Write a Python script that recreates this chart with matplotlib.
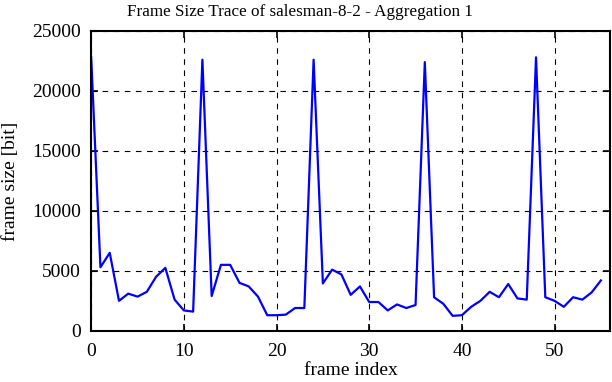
import matplotlib
matplotlib.use("Agg")
import matplotlib.pyplot as plt
import numpy as np

# frame sizes [bit] per frame index
frame_size = [
    22800, 5300, 6500, 2500, 3100, 2850, 3250, 4500, 5250, 2600,
    1700, 1600, 22600, 2900, 5500, 5500, 4000, 3700, 2850, 1300,
    1300, 1350, 1900, 1900, 22600, 3950, 5100, 4700, 3000, 3700,
    2400, 2400, 1700, 2200, 1900, 2150, 22400, 2800, 2250, 1250,
    1300, 2000, 2500, 3250, 2800, 3900, 2700, 2600, 22800, 2800,
    2500, 2000, 2800, 2600, 3200, 4200,
]
frame_index = np.arange(len(frame_size))

plt.rcParams["font.family"] = ["Liberation Serif", "DejaVu Serif"]

fig = plt.figure(figsize=(6.12, 3.82), dpi=100)
ax = fig.add_axes([0.149, 0.134, 0.848, 0.785])
ax.plot(frame_index, frame_size, color="#0000ff", linewidth=1.6)

ax.set_xlim(0, 56)
ax.set_ylim(0, 25000)
ax.set_xticks(np.arange(0, 51, 10))
ax.set_yticks(np.arange(0, 25001, 5000))
ax.tick_params(direction="in", length=5, width=1.2, labelsize=14,
               top=True, right=True)
ax.tick_params(axis="x", pad=9)
ax.tick_params(axis="y", pad=7.5)
ax.grid(True, color="black", linestyle=(0, (5, 5)), linewidth=0.8)
for sp in ax.spines.values():
    sp.set_linewidth(1.5)

ax.set_title("Frame Size Trace of salesman-8-2 - Aggregation 1",
             fontsize=12.3, pad=11, x=0.402)
ax.set_xlabel("frame index", fontsize=14, labelpad=1)
ax.set_ylabel("frame size [bit]", fontsize=14, labelpad=9)

fig.savefig("out.png")
plt.close(fig)
